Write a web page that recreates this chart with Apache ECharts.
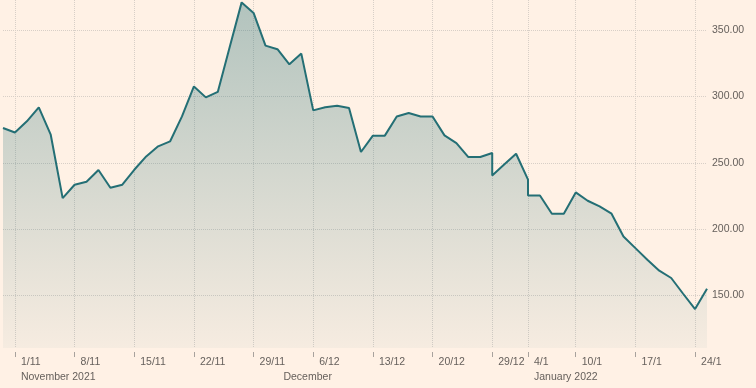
<!DOCTYPE html>
<html><head><meta charset="utf-8">
<script src="https://cdn.jsdelivr.net/npm/echarts@6/dist/echarts.min.js"></script>
<style>html,body{margin:0;padding:0;background:#FFF1E5;}#c{width:756px;height:388px;}</style>
</head><body><div id="c"></div>
<script>
// data dates (weekdays; holidays 28/12 and 3/1 are reported but drawn on the next trading day)
const dates = [
 '2021-10-29',
 '2021-11-01','2021-11-02','2021-11-03','2021-11-04','2021-11-05',
 '2021-11-08','2021-11-09','2021-11-10','2021-11-11','2021-11-12',
 '2021-11-15','2021-11-16','2021-11-17','2021-11-18','2021-11-19',
 '2021-11-22','2021-11-23','2021-11-24','2021-11-25','2021-11-26',
 '2021-11-29','2021-11-30','2021-12-01','2021-12-02','2021-12-03',
 '2021-12-06','2021-12-07','2021-12-08','2021-12-09','2021-12-10',
 '2021-12-13','2021-12-14','2021-12-15','2021-12-16','2021-12-17',
 '2021-12-20','2021-12-21','2021-12-22','2021-12-23','2021-12-24',
 '2021-12-28','2021-12-29','2021-12-30','2021-12-31',
 '2022-01-03','2022-01-04','2022-01-05','2022-01-06','2022-01-07',
 '2022-01-10','2022-01-11','2022-01-12','2022-01-13','2022-01-14',
 '2022-01-17','2022-01-18','2022-01-19','2022-01-20','2022-01-21',
 '2022-01-24','2022-01-25'
];
const values = [
 276.3,
 272.9, 281.3, 291.9, 271.2, 223.3,
 233.4, 235.7, 244.5, 231.1, 233.4,
 244.7, 254.8, 262.4, 266.1, 285.0,
 307.7, 299.4, 303.5, 337.4, 371.2,
 363.2, 338.5, 335.8, 324.4, 332.5,
 289.6, 291.9, 293.1, 291.4, 258.1,
 270.5, 270.5, 285.0, 287.6, 285.0,
 285.0, 270.7, 264.9, 254.3, 254.3,
 257.4, 240.4, 248.6, 256.8,
 237.2, 225.3, 225.3, 211.5, 211.5,
 227.6, 221.3, 217.0, 211.5, 194.3,
 185.5, 176.7, 168.4, 162.9, 151.0,
 139.4, 154.8
];
const holidays = ['2021-12-27','2021-12-28','2022-01-03'];
const tickDates = ['2021-11-01','2021-11-08','2021-11-15','2021-11-22','2021-11-29','2021-12-06',
 '2021-12-13','2021-12-20','2021-12-29','2022-01-04','2022-01-10','2022-01-17','2022-01-24'];
const monthStarts = ['2021-11-01','2021-12-01','2022-01-04'];
const monthLabels = ['November 2021','December','January 2022'];
const yTicks = [150, 200, 250, 300, 350];

const tradingDays = dates.filter(d => holidays.indexOf(d) < 0);
function pos(d) { for (let i = 0; i < tradingDays.length; i++) if (tradingDays[i] >= d) return i; return tradingDays.length - 1; }
function dm(d) { const p = d.split('-'); return (+p[2]) + '/' + (+p[1]); }

const seriesData = dates.map((d, i) => [pos(d), values[i]]);
const tickPos = tickDates.map(pos);
const monthPos = monthStarts.map(pos);

const txt = '#66605C';
const gridCol = '#d8cfc7';
const chart = echarts.init(document.getElementById('c'), null, {renderer: 'canvas'});
chart.setOption({
  backgroundColor: '#FFF1E5',
  animation: false,
  grid: {left: 3, right: 49, top: 0, bottom: 40, containLabel: false},
  xAxis: [{
    type: 'value', min: 0, max: tradingDays.length - 1, offset: 4,
    axisLine: {show: false},
    axisTick: {show: true, customValues: tickPos, length: 5, lineStyle: {color: '#a8a29d', width: 1}},
    splitLine: {show: true, lineStyle: {color: gridCol, type: 'dotted', width: 1}},
    axisLabel: {customValues: tickPos, color: txt, fontSize: 10.5, fontFamily: 'Liberation Sans, Arial, sans-serif',
      align: 'left', padding: [0, 0, 0, 6], margin: 5,
      formatter: v => dm(tradingDays[Math.round(v)])}
  }, {
    type: 'value', min: 0, max: tradingDays.length - 1, offset: 4, position: 'bottom',
    axisLine: {show: false}, axisTick: {show: false, customValues: monthPos}, splitLine: {show: false},
    axisLabel: {customValues: monthPos, color: txt, fontSize: 10.5, fontFamily: 'Liberation Sans, Arial, sans-serif',
      align: 'left', padding: [0, 0, 0, 6], margin: 20,
      formatter: v => monthLabels[monthPos.indexOf(Math.round(v))]}
  }],
  yAxis: {
    type: 'value', position: 'right', min: 110, max: 373,
    axisLine: {show: false},
    axisTick: {show: false, customValues: yTicks},
    splitLine: {show: true, lineStyle: {color: gridCol, type: 'dotted', width: 1}},
    axisLabel: {customValues: yTicks, color: txt, fontSize: 10.5, fontFamily: 'Liberation Sans, Arial, sans-serif',
      margin: 5, formatter: v => v.toFixed(2)}
  },
  series: [{
    type: 'line', xAxisIndex: 0, data: seriesData, symbol: 'none',
    lineStyle: {color: '#246f75', width: 2},
    areaStyle: {color: new echarts.graphic.LinearGradient(0, 0, 0, 1, [
      {offset: 0, color: 'rgba(36,111,117,0.5)'},
      {offset: 1, color: 'rgba(36,111,117,0.06)'}
    ])}
  }]
});
</script></body></html>
